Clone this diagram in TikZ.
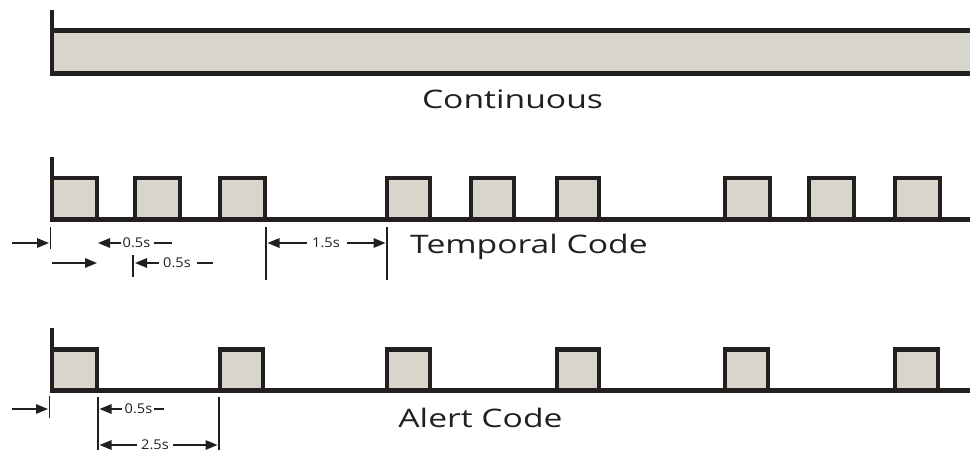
\documentclass[tikz,border=0pt]{standalone}
\usepackage{fontspec}
\setmainfont{Open Sans}
\newfontfamily\titlefont[FakeStretch=1.32]{Open Sans}
\newfontfamily\labelfont[FakeStretch=1.08]{Open Sans}
\usetikzlibrary{arrows.meta}
\definecolor{ink}{HTML}{231F20}
\definecolor{pulsefill}{HTML}{D8D6CB}
\tikzset{
  wave/.style={line width=4.5pt, draw=ink, line join=miter},
  dimline/.style={line width=1.5pt, draw=ink},
  dimarrow/.style={dimline, -{Triangle[length=12pt,width=9.5pt]}},
  dimlabel/.style={font=\labelfont\fontsize{13.5}{13.5}\selectfont, text=ink, inner sep=0pt},
  title/.style={font=\titlefont\fontsize{25.5}{25.5}\selectfont, text=ink, anchor=base, inner sep=0pt},
}
\begin{document}
\begin{tikzpicture}[x=1pt,y=-1pt]
\useasboundingbox (0,0) rectangle (970,450);
% ---------- Continuous ----------
\fill[pulsefill] (52,30.5) rectangle (975,73.5);
\draw[wave] (52,10) -- (52,73.5) -- (975,73.5);
\draw[wave] (52,30.5) -- (975,30.5);
\node[title] (cont) at (512.5,108) {Continuous};
% ---------- Temporal ----------
\foreach \l/\r in {52/97,135/180,220/265,387/430,471/514,557/599,725/770,809/854,895/940}{
  \fill[pulsefill] (\l,178) rectangle (\r,219.5);
}
\draw[wave] (52,157) -- (52,219.5) -- (975,219.5);
\foreach \l/\r in {52/97,135/180,220/265,387/430,471/514,557/599,725/770,809/854,895/940}{
  \draw[wave] (\l,219.5) -- (\l,178) -- (\r,178) -- (\r,219.5);
}
\node[title] (temp) at (529,253) {Temporal Code};
% temporal dimensions
\draw[dimarrow] (12,243) -- (49,243);
\draw[dimline] (50.5,227) -- (50.5,249);
\node[dimlabel] (t05a) at (136.5,243) {0.5s};
\draw[dimarrow] (120.5,243) -- (98,243);
\draw[dimline] (154,243) -- (172,243);
\draw[dimarrow] (52,263) -- (97,263);
\draw[dimline] (133,255) -- (133,277);
\node[dimlabel] (t05b) at (177,263) {0.5s};
\draw[dimarrow] (159,263) -- (135,263);
\draw[dimline] (197,263) -- (213,263);
\draw[dimline] (266,227) -- (266,280);
\draw[dimline] (387,227) -- (387,280);
\node[dimlabel] (t15) at (326,243) {1.5s};
\draw[dimarrow] (307,243) -- (267.5,243);
\draw[dimarrow] (347,243) -- (385.5,243);
% ---------- Alert ----------
\foreach \l/\r in {52/97,220/263,387/430,557/599,725/768,895/938}{
  \fill[pulsefill] (\l,349.5) rectangle (\r,390.5);
}
\draw[wave] (52,328) -- (52,390.5) -- (975,390.5);
\foreach \l/\r in {52/97,220/263,387/430,557/599,725/768,895/938}{
  \draw[wave] (\l,390.5) -- (\l,349.5) -- (\r,349.5) -- (\r,390.5);
}
\node[title] (alert) at (480.5,427) {Alert Code};
% alert dimensions
\draw[dimarrow] (12,409) -- (48,409);
\draw[dimline] (49.5,396) -- (49.5,418);
\draw[dimline] (98,397) -- (98,452);
\draw[dimline] (219,397) -- (219,452);
\node[dimlabel] (a05) at (138.5,409) {0.5s};
\draw[dimarrow] (122,409) -- (99.5,409);
\draw[dimline] (154,409) -- (164,409);
\node[dimlabel] (a25) at (155,445) {2.5s};
\draw[dimarrow] (137,445) -- (99.5,445);
\draw[dimarrow] (173,445) -- (217.5,445);
\end{tikzpicture}
\end{document}
